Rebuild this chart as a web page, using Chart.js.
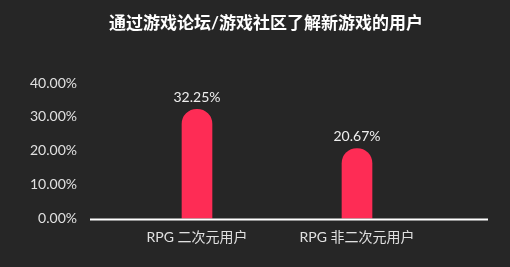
<!DOCTYPE html>
<html>
<head>
<meta charset="utf-8">
<script src="https://cdn.jsdelivr.net/npm/chart.js@4.4.1/dist/chart.umd.min.js"></script>
<style>
  html, body { margin: 0; padding: 0; background: #262626; }
  #wrap { width: 510px; height: 267px; }
</style>
</head>
<body>
<div id="wrap"><canvas id="c"></canvas></div>
<script>
// Daten
const categories = ["RPG 二次元用户", "RPG 非二次元用户"];
const values = [32.25, 20.67];
const yTicks = [0, 10, 20, 30, 40];
const titleText = "通过游戏论坛/游戏社区了解新游戏的用户";

const FONT = "Lato, 'Noto Sans CJK SC', sans-serif";

// Titel über die ganze Breite zentriert
const titleDraw = {
  id: "titleDraw",
  afterDraw(chart) {
    const ctx = chart.ctx;
    ctx.save();
    ctx.font = "bold 17px " + FONT;
    ctx.fillStyle = "#ffffff";
    ctx.textAlign = "center";
    ctx.textBaseline = "middle";
    ctx.fillText(titleText, 266, 24);
    ctx.restore();
  }
};

// Werte über den Balken
const valueLabels = {
  id: "valueLabels",
  afterDatasetsDraw(chart) {
    const ctx = chart.ctx;
    const meta = chart.getDatasetMeta(0);
    ctx.save();
    ctx.font = "14px " + FONT;
    ctx.fillStyle = "#eeeeee";
    ctx.textAlign = "center";
    ctx.textBaseline = "bottom";
    meta.data.forEach((bar, i) => {
      ctx.fillText(values[i].toFixed(2) + "%", bar.x, bar.y - 5);
    });
    ctx.restore();
  }
};

// Grundlinie, etwas breiter als die Plotfläche
const baseLine = {
  id: "baseLine",
  afterDatasetsDraw(chart) {
    const ctx = chart.ctx;
    const y = chart.scales.y.getPixelForValue(0);
    ctx.save();
    ctx.strokeStyle = "#ffffff";
    ctx.lineWidth = 2;
    ctx.beginPath();
    ctx.moveTo(90, y + 1);
    ctx.lineTo(488, y + 1);
    ctx.stroke();
    ctx.restore();
  }
};

new Chart(document.getElementById("c"), {
  type: "bar",
  data: {
    labels: categories,
    datasets: [{
      data: values,
      backgroundColor: "#fe2c55",
      barThickness: 30,
      borderRadius: { topLeft: 15, topRight: 15, bottomLeft: 0, bottomRight: 0 },
      borderSkipped: false
    }]
  },
  options: {
    responsive: true,
    maintainAspectRatio: false,
    animation: false,
    layout: { padding: { left: 0, right: 73, top: 83, bottom: 0 } },
    plugins: {
      legend: { display: false },
      tooltip: { enabled: false },
      title: { display: false }
    },
    scales: {
      x: {
        afterFit(scale) { scale.height = 46; },
        grid: { display: false, drawTicks: false },
        border: { display: false },
        ticks: { color: "#e0e0e0", font: { family: FONT, size: 14 }, padding: 10 }
      },
      y: {
        min: 0,
        max: 40,
        afterFit(scale) { scale.width = 117; },
        afterBuildTicks(scale) { scale.ticks = yTicks.map(v => ({ value: v })); },
        grid: { display: false, drawTicks: false },
        border: { display: false },
        ticks: {
          color: "#e0e0e0",
          font: { family: FONT, size: 14 },
          padding: 40,
          callback: v => v.toFixed(2) + "%"
        }
      }
    }
  },
  plugins: [valueLabels, baseLine, titleDraw]
});
</script>
</body>
</html>
